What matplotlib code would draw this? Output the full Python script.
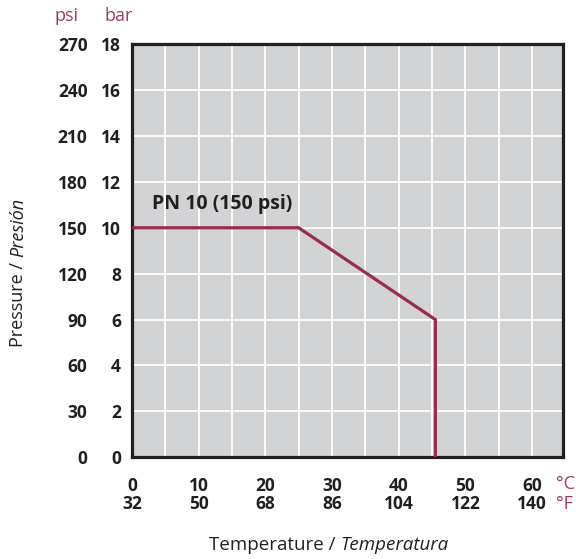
import matplotlib.pyplot as plt

# pressure / temperature curve
temp_c = [0, 25, 45.5, 45.5]
press_bar = [10, 10, 6, 0]

x_ticks_c = [0, 10, 20, 30, 40, 50, 60]
x_ticks_f = [32, 50, 68, 86, 104, 122, 140]
y_ticks_bar = [0, 2, 4, 6, 8, 10, 12, 14, 16, 18]
y_ticks_psi = [0, 30, 60, 90, 120, 150, 180, 210, 240, 270]

curve_label = "PN 10 (150 psi)"

crimson = "#a23a5c"
line_col = "#9b2b4f"
gray = "#d1d3d4"
dark = "#231f20"

plt.rcParams['font.family'] = ['Open Sans', 'DejaVu Sans']

fig = plt.figure(figsize=(5.76, 5.59), dpi=100)
ax = fig.add_axes([0.229, 0.182, 0.748, 0.739])
ax.set_facecolor(gray)

ax.plot(temp_c, press_bar, color=line_col, lw=2.3, solid_joinstyle='miter', zorder=3)

ax.set_xlim(0, 64.6)
ax.set_ylim(0, 18)

# grid every 5 degC / 2 bar
for gx in range(5, 65, 5):
    ax.axvline(gx, color='white', lw=1.3, zorder=1)
for gy in y_ticks_bar[1:-1]:
    ax.axhline(gy, color='white', lw=1.3, zorder=1)

for s in ax.spines.values():
    s.set_color(dark)
    s.set_linewidth(2.3)

tick_font = dict(fontweight='bold', fontsize=12.5, color=dark)
ax.set_xticks(x_ticks_c)
ax.set_xticklabels([f"{c}\n{f}" for c, f in zip(x_ticks_c, x_ticks_f)],
                   linespacing=1.05, **tick_font)
ax.set_yticks(y_ticks_bar)
ax.set_yticklabels([str(v) for v in y_ticks_bar], **tick_font)
ax.tick_params(axis='x', length=0, pad=14)
ax.tick_params(axis='y', length=0, pad=8)

# psi column
sec = ax.secondary_yaxis('left', functions=(lambda b: b * 15, lambda p: p / 15))
sec.set_yticks(y_ticks_psi)
sec.set_yticklabels([str(v) for v in y_ticks_psi], **tick_font)
sec.tick_params(length=0, pad=32)
sec.spines['left'].set_visible(False)

ax.text(3.0, 11.05, curve_label, fontweight='bold', fontsize=14, color=dark, va='center')

# units
fig.text(55 / 576, 1 - 16 / 559, "psi", color=crimson, fontsize=13, va='center', ha='left')
fig.text(104 / 576, 1 - 16 / 559, "bar", color=crimson, fontsize=13, va='center', ha='left')
fig.text(556 / 576, 1 - 484 / 559, "°C", color=crimson, fontsize=13, va='center', ha='left')
fig.text(556 / 576, 1 - 504 / 559, "°F", color=crimson, fontsize=13, va='center', ha='left')

# axis titles, second half in italics
t1 = fig.text(209 / 576, 1 - 545 / 559, "Temperature / ", fontsize=13.5, color=dark, va='center', ha='left')
fig.canvas.draw()
ax.annotate("Temperatura", xy=(1, 0.5), xycoords=t1, fontsize=13.5, color=dark,
            style='italic', va='center', ha='left', annotation_clip=False)

t2 = fig.text(18 / 576, 1 - 347 / 559, "Pressure / ", fontsize=13, color=dark,
              rotation=90, va='bottom', ha='center')
ax.annotate("Presión", xy=(0.5, 1), xycoords=t2, fontsize=13, color=dark,
            style='italic', rotation=90, va='bottom', ha='center', annotation_clip=False)

fig.savefig("out.png", dpi=100)
